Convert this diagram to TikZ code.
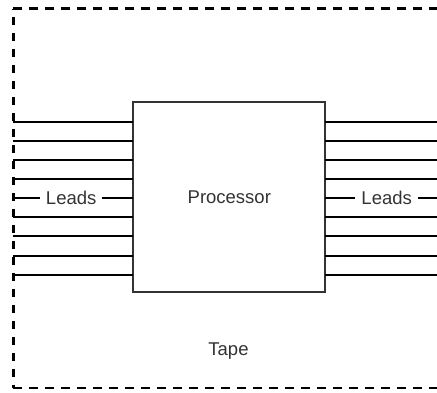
\documentclass[tikz,border=0pt]{standalone}
\usepackage{fontspec}
\setmainfont{Liberation Sans}
\definecolor{ink}{HTML}{333333}
\begin{document}
\begin{tikzpicture}[x=1pt,y=-1pt,
  lead/.style={line width=2pt,black},
  tapeline/.style={line width=2.5pt,black,dash pattern=on 8.3pt off 7.7pt},
  lbl/.style={font=\fontsize{18.5}{22}\selectfont,text=ink,inner ysep=0pt,inner xsep=6pt,outer sep=0pt},
  procbox/.style={draw=ink,line width=2.3pt,minimum width=192pt,minimum height=190pt,inner sep=0pt,outer sep=0pt,font=\fontsize{18.5}{22}\selectfont,text=ink}]
\useasboundingbox (0,0) rectangle (437,392);
% tape boundary
\coordinate (tl) at (13.3,8.7);
\coordinate (tr) at (437,8.7);
\coordinate (bl) at (13.3,388);
\coordinate (br) at (437,388);
\draw[tapeline] (tl) -- (tr);
\draw[tapeline,dash phase=8pt] (tl) -- (bl);
\draw[tapeline] (bl) -- (br);
% processor
\node[procbox] (proc) at (229.3,197) {Processor};
% leads
\foreach \i in {0,1,2,3,5,6,7,8}{
  \coordinate (l\i) at (13.3,121.7+19.125*\i);
  \coordinate (r\i) at (437,121.7+19.125*\i);
  \draw[lead] (l\i) -- (l\i -| proc.west);
  \draw[lead] (proc.east |- r\i) -- (r\i);
}
\coordinate (l4) at (13.3,198.2);
\coordinate (r4) at (437,198.2);
\node[lbl] (leadsL) at (71.2,198.2) {Leads};
\node[lbl] (leadsR) at (386.7,198.2) {Leads};
\draw[lead] (l4) -- (leadsL.west);
\draw[lead] (leadsL.east) -- (l4 -| proc.west);
\draw[lead] (proc.east |- r4) -- (leadsR.west);
\draw[lead] (leadsR.east) -- (r4);
% tape label
\node[lbl,anchor=base] (tape) at (228.5,355.7) {Tape};
\end{tikzpicture}
\end{document}
